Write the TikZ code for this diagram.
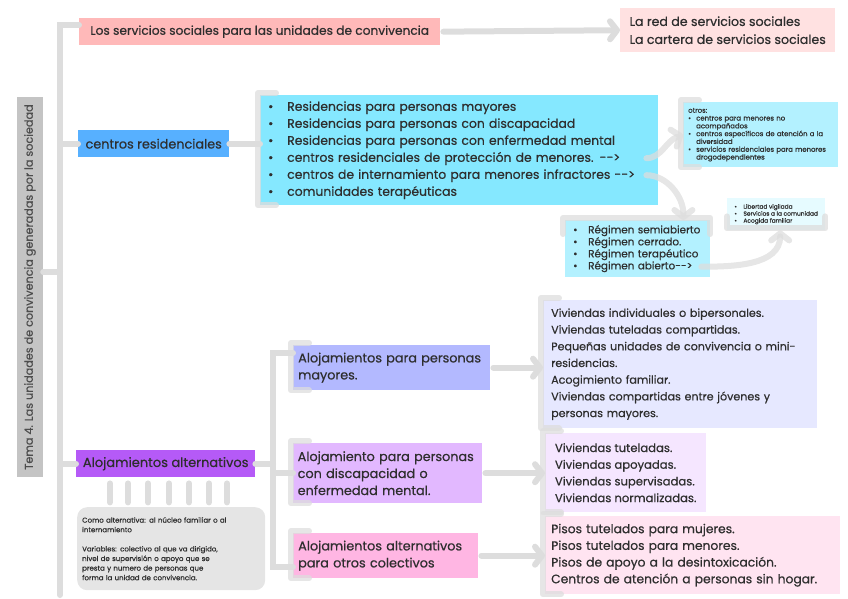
\documentclass[tikz,border=0pt]{standalone}
\usepackage{fontspec}
\setmainfont{Poppins}[FakeBold=0.6]
\usetikzlibrary{arrows.meta}

\definecolor{texto}{HTML}{2E2E2E}
\definecolor{linea}{HTML}{DDDDDD}
\definecolor{gristema}{HTML}{C4C4C4}
\definecolor{rosa}{HTML}{FFB9B9}
\definecolor{rosaclaro}{HTML}{FFE1E1}
\definecolor{azul}{HTML}{57B0FF}
\definecolor{cian}{HTML}{85E8FF}
\definecolor{cianclaro}{HTML}{B3F1FF}
\definecolor{cianpalido}{HTML}{E6FBFF}
\definecolor{morado}{HTML}{B55AF7}
\definecolor{grisnota}{HTML}{E5E5E5}
\definecolor{lavanda}{HTML}{B3B9FF}
\definecolor{lila}{HTML}{E2B8FF}
\definecolor{fucsia}{HTML}{FFB6E3}
\definecolor{lavandaclaro}{HTML}{E6E8FF}
\definecolor{lilaclaro}{HTML}{F5E6FF}
\definecolor{fucsiaclaro}{HTML}{FFE4F1}

\newcommand{\itm}[1]{\makebox[#1][l]{\textbullet}}

\tikzset{
  caja/.style={anchor=north west, inner sep=0pt, align=left, text=texto},
  tronco/.style={draw=linea, line width=6pt, line cap=round},
  corch/.style={draw=linea, line width=6pt, line cap=round, line join=round, opacity=.75},
  flecha/.style={draw=linea, line width=6pt, line cap=round, shorten <=3pt,
    -{Straight Barb[length=7pt,width=18pt,round]}},
}

\begin{document}
\begin{tikzpicture}[x=1pt, y=-1pt]
    \useasboundingbox (0,0) rectangle (848,599);

    % Título
    \node[caja, anchor=center, rotate=90, fill=gristema, minimum width=380pt, minimum height=26pt,
      text=texto!85, font=\fontsize{11.2}{12}\selectfont] (tema) at (30,287)
      {Tema 4. Las unidades de convivencia generadas por la sociedad};

    % Servicios sociales
    \node[caja, fill=rosa, minimum width=361pt, minimum height=27pt,
      font=\fontsize{12.2}{14}\selectfont] (serv) at (79,18)
      {Los servicios sociales para las unidades de convivencia};
    \node[caja, fill=rosaclaro, minimum width=215pt, minimum height=44pt,
      font=\fontsize{12.6}{18}\selectfont] (red) at (620,8)
      {La red de servicios sociales\\La cartera de servicios sociales};

    % Centros residenciales
    \node[caja, fill=azul, minimum width=151pt, minimum height=27pt,
      font=\fontsize{12.8}{14}\selectfont] (cres) at (78,130) {centros residenciales};
    \node[caja, fill=cian, minimum width=398pt, minimum height=110pt, text width=382pt,
      font=\fontsize{12.4}{17}\selectfont] (res) at (260,95)
      {\itm{19pt}Residencias para personas mayores\\
       \itm{19pt}Residencias para personas con discapacidad\\
       \itm{19pt}Residencias para personas con enfermedad mental\\
       \itm{19pt}centros residenciales de protección de menores. -{}->\\
       \itm{19pt}centros de internamiento para menores infractores -{}->\\
       \itm{19pt}comunidades terapéuticas};
    \node[caja, fill=cianclaro, minimum width=155pt, minimum height=65pt, text width=145pt,
      font=\fontsize{6.9}{7.8}\selectfont] (otros) at (683,102)
      {otros:\\
       \itm{8pt}centros para menores no\\\hspace*{8pt}acompañados\\
       \itm{8pt}centros específicos de atención a la\\\hspace*{8pt}diversidad\\
       \itm{8pt}servicios residenciales para menores\\\hspace*{8pt}drogodependientes};
    \node[caja, fill=cianclaro, minimum width=145pt, minimum height=57pt, text width=129pt,
      font=\fontsize{10.4}{12}\selectfont] (reg) at (565,220)
      {\itm{15pt}Régimen semiabierto\\
       \itm{15pt}Régimen cerrado.\\
       \itm{15pt}Régimen terapéutico\\
       \itm{15pt}Régimen abierto-{}->};
    \node[caja, fill=cianpalido, minimum width=98pt, minimum height=32pt,
      font=\fontsize{5.9}{7}\selectfont] (lib) at (727,198)
      {\itm{9pt}Libertad vigilada\\
       \itm{9pt}Servicios a la comunidad\\
       \itm{9pt}Acogida familiar};

    % Alojamientos alternativos
    \node[caja, fill=morado, minimum width=179pt, minimum height=27pt,
      font=\fontsize{13}{14}\selectfont] (aalt) at (76,450) {Alojamientos alternativos};
    \node[caja, fill=grisnota, rounded corners=10pt, minimum width=188pt, minimum height=83pt,
      text width=178pt, font=\fontsize{7}{9.6}\selectfont] (nota) at (77,507)
      {Como alternativa: al núcleo familiar o al\\internamiento\\[9.6pt]
       Variables: colectivo al que va dirigido,\\nivel de supervisión o apoyo que se\\
       presta y numero de personas que\\forma la unidad de convivencia.};

    \node[caja, fill=lavanda, minimum width=197pt, minimum height=45pt, text width=187pt,
      font=\fontsize{12.8}{17}\selectfont] (am) at (293,345)
      {Alojamientos para personas\\mayores.};
    \node[caja, fill=lila, minimum width=189pt, minimum height=60pt, text width=180pt,
      font=\fontsize{12.8}{17}\selectfont] (ad) at (293,443)
      {Alojamiento para personas\\con discapacidad o\\enfermedad mental.};
    \node[caja, fill=fucsia, minimum width=185pt, minimum height=45pt, text width=175pt,
      font=\fontsize{12.8}{17}\selectfont] (ao) at (293,533)
      {Alojamientos alternativos\\para otros colectivos};

    \node[caja, fill=lavandaclaro, minimum width=274pt, minimum height=128pt, text width=258pt,
      font=\fontsize{11.1}{16.7}\selectfont] (va) at (543,300)
      {Viviendas individuales o bipersonales.\\
       Viviendas tuteladas compartidas.\\
       Pequeñas unidades de convivencia o mini-\\
       residencias.\\
       Acogimiento familiar.\\
       Viviendas compartidas entre jóvenes y\\
       personas mayores.};
    \node[caja, fill=lilaclaro, minimum width=161pt, minimum height=79pt,
      font=\fontsize{11.6}{16.7}\selectfont] (vb) at (545,433)
      {Viviendas tuteladas.\\
       Viviendas apoyadas.\\
       Viviendas supervisadas.\\
       Viviendas normalizadas.};
    \node[caja, fill=fucsiaclaro, minimum width=295pt, minimum height=78pt, text width=283pt,
      font=\fontsize{12.3}{16.7}\selectfont] (vc) at (545,516)
      {Pisos tutelados para mujeres.\\
       Pisos tutelados para menores.\\
       Pisos de apoyo a la desintoxicación.\\
       Centros de atención a personas sin hogar.};

    % Tronco y ramas
    \coordinate (arriba) at (60,25);
    \coordinate (abajo) at (60,595);
    \coordinate (junta) at (60,272);
    \draw[tronco] (serv.west |- arriba) -- (arriba) -- (abajo);
    \draw[tronco] (tema.south |- junta) -- (junta);
    \draw[tronco] (cres.west) -- (cres.west -| arriba);
    \draw[tronco] (aalt.west) -- (aalt.west -| arriba);
    \draw[tronco] (cres.east) -- (res.west |- cres.east);

    \coordinate (s1) at (273,353);
    \coordinate (s3) at (273,567);
    \draw[tronco] (am.west |- s1) -- (s1) -- (s3) -- (ao.west |- s3);
    \draw[tronco] (ad.west) -- (ad.west -| s1);
    \draw[tronco] (aalt.east) -- (aalt.east -| s1);
    \foreach \d in {34,52,72,93,113,133,151}
      \draw[tronco] ([xshift=\d pt,yshift=-6pt]aalt.south west) -- ++(0,19);

    % Corchetes
    \foreach \n in {res,otros,am,ad,ao,va,vb,vc}
      \draw[corch] ([xshift=16pt,yshift=2pt]\n.north west) -- ([xshift=-2pt,yshift=2pt]\n.north west)
        -- ([xshift=-2pt]\n.south west) -- ([xshift=16pt]\n.south west);
    \draw[corch] ([xshift=-2pt,yshift=-14pt]reg.north west) -- ([xshift=-2pt,yshift=2pt]reg.north west)
      -- ([yshift=2pt]reg.north east) -- ([yshift=-14pt]reg.north east);
    \draw[corch] ([yshift=14pt]lib.south west) -- ([yshift=2pt]lib.south west)
      -- ([yshift=2pt]lib.south east) -- ([yshift=14pt]lib.south east);

    % Flechas
    \draw[flecha] (serv.east) -- (red.west);
    \draw[flecha] (am.east) -- (va.west |- am.east);
    \draw[flecha] (ad.east) -- (vb.west |- ad.east);
    \draw[flecha] (ao.east) -- (vc.west |- ao.east);
    \draw[flecha, opacity=.75] ([xshift=-15pt,yshift=-8pt]res.east) to[out=0,in=200] (otros.west);
    \draw[flecha, opacity=.75] ([xshift=-15pt,yshift=-25pt]res.east) to[out=0,in=90] ([xshift=-27pt]reg.north east);
    \draw[flecha, opacity=.75] ([xshift=-12pt,yshift=-18pt]reg.east) to[out=0,in=-90] ([xshift=4pt]lib.south);

\end{tikzpicture}
\end{document}
